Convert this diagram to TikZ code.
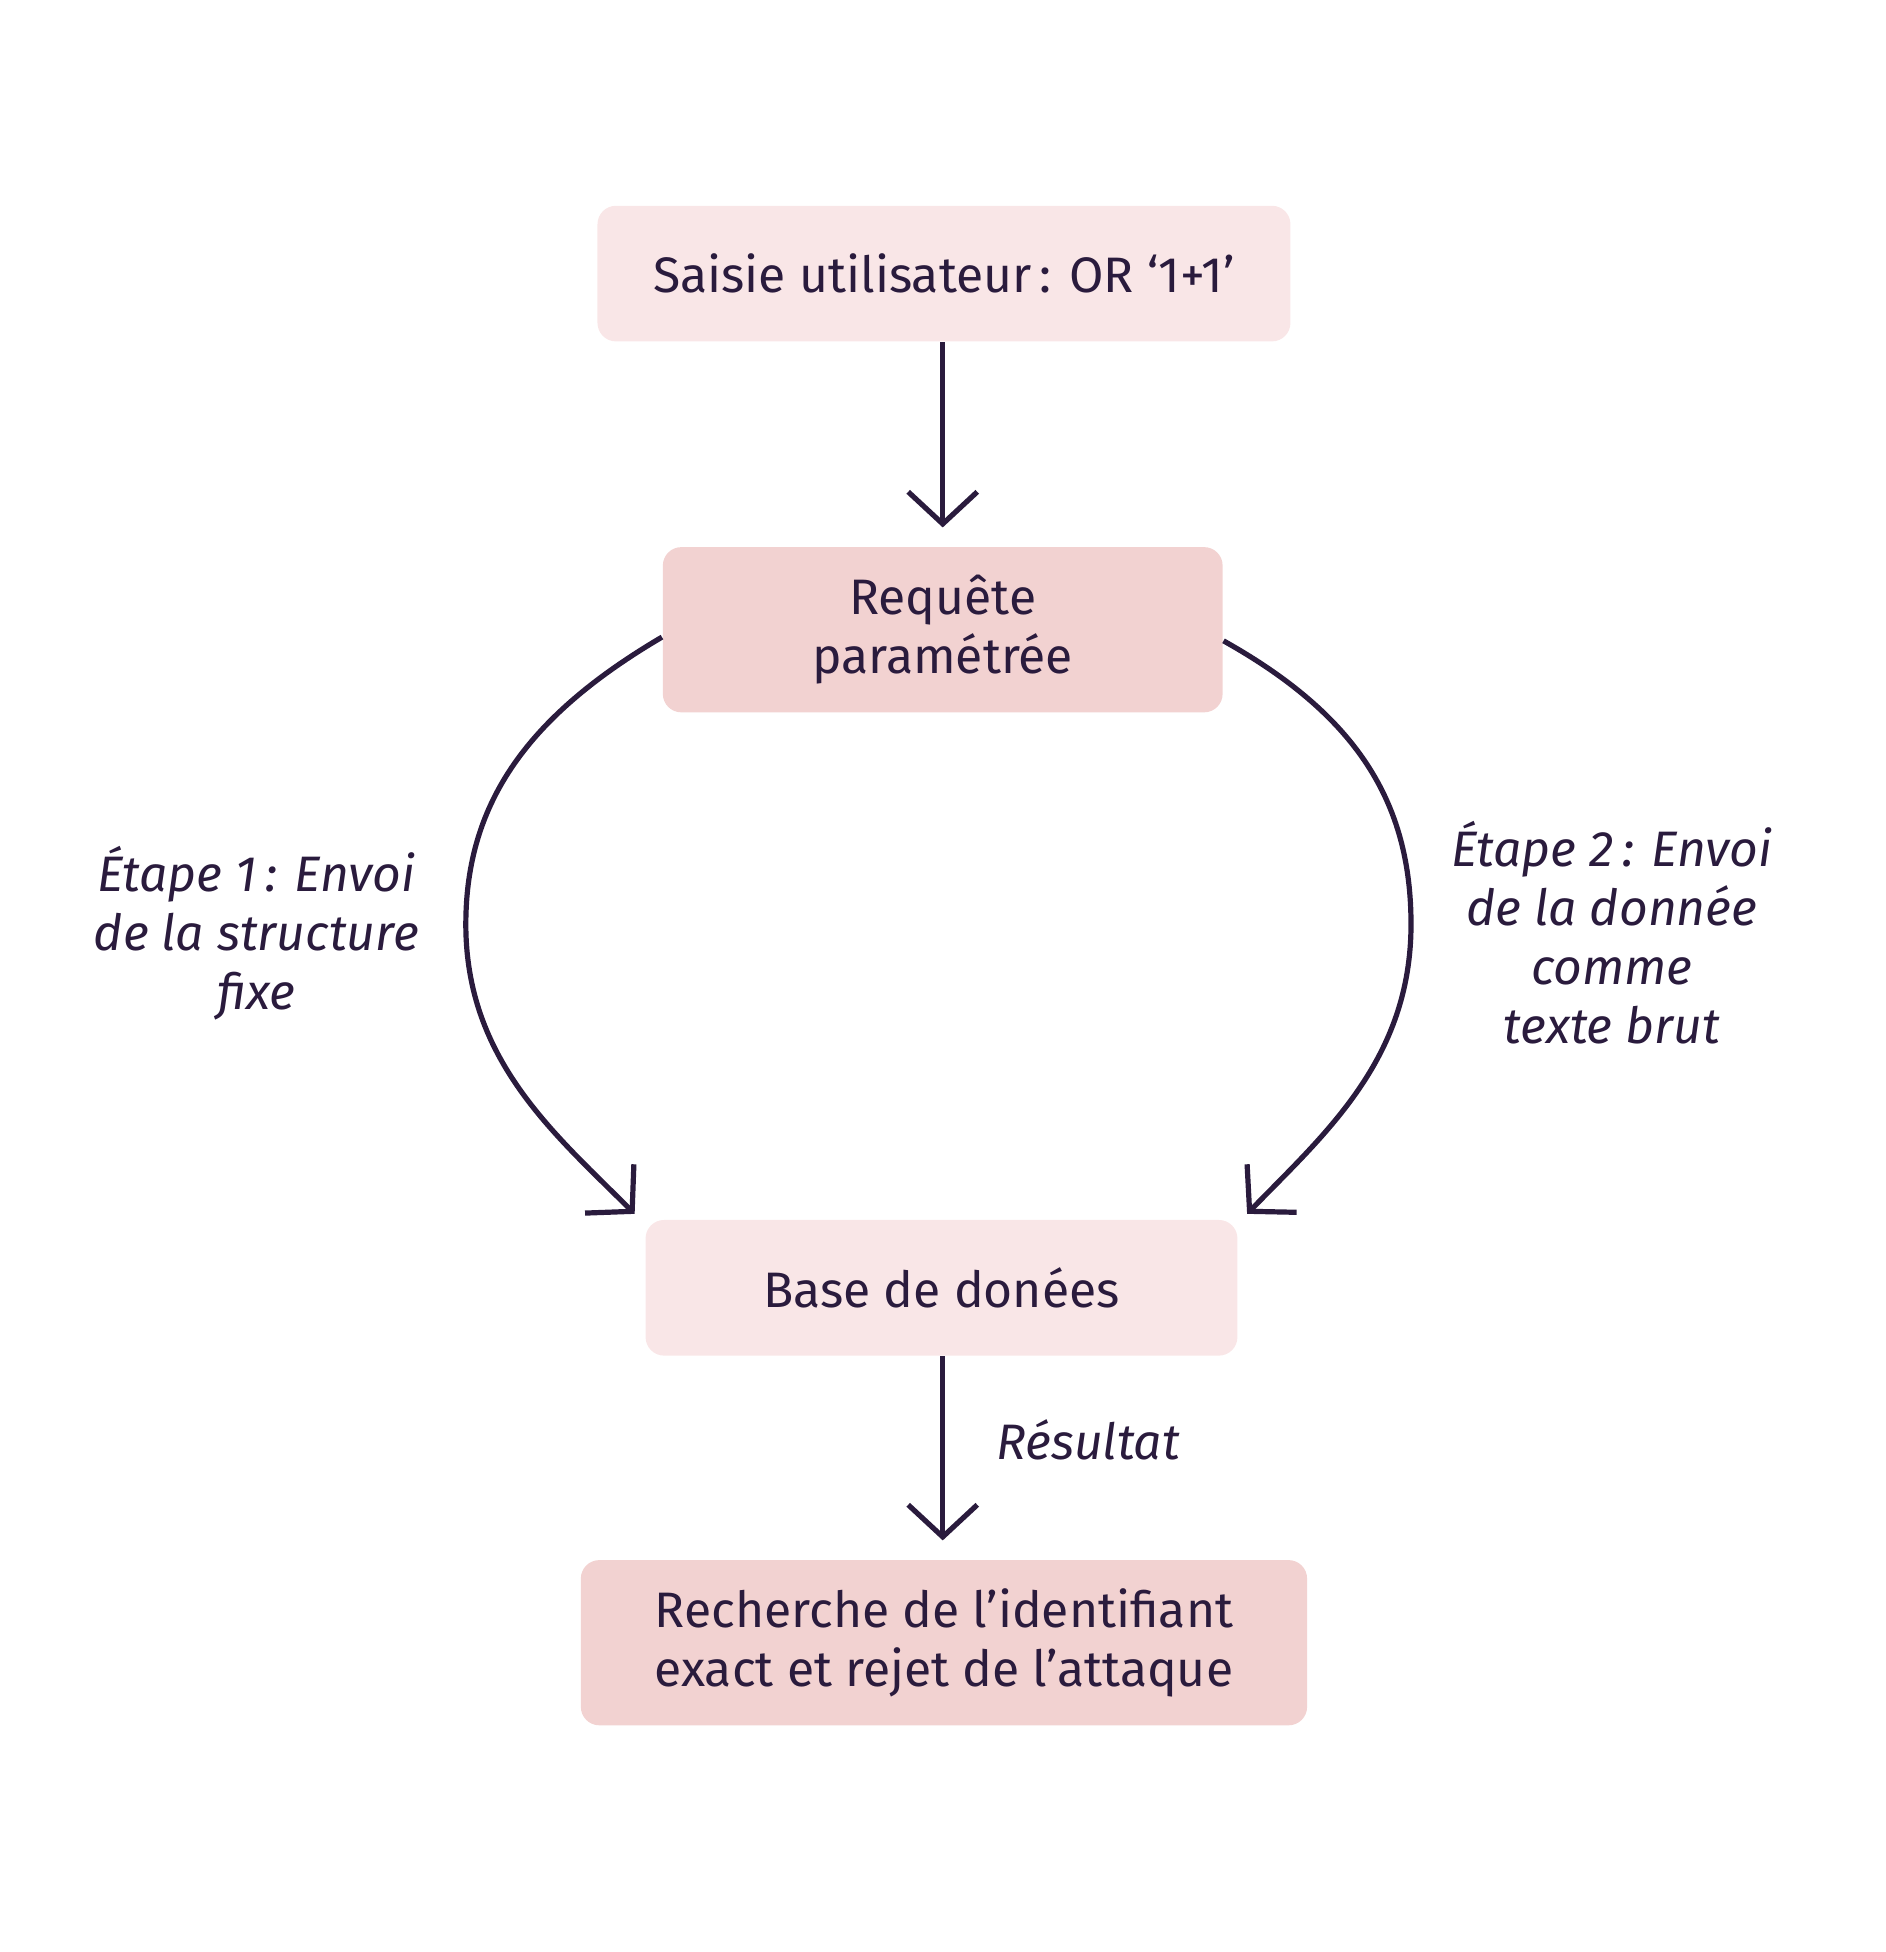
\documentclass[tikz,border=0pt]{standalone}
\usepackage{fontspec}
\setmainfont{Fira Sans}
\usetikzlibrary{arrows.meta}
\definecolor{inkpurple}{HTML}{2A1B3D}
\definecolor{pinklight}{HTML}{F9E6E7}
\definecolor{pinkdark}{HTML}{F2D2D1}
\tikzset{
  box/.style={rounded corners=0.15cm,inner sep=0pt,text=inkpurple,align=center,
    font=\fontsize{11.5}{13.6}\selectfont},
  flow/.style={line width=1.2pt,draw=inkpurple,-{Straight Barb[length=2.6mm,width=5.6mm,line width=1.2pt]}},
  lab/.style={text=inkpurple,align=center,font=\fontsize{11.5}{13.6}\selectfont\itshape}
}
\begin{document}
\begin{tikzpicture}[x=0.01cm,y=-0.01cm]
  \useasboundingbox (0,0) rectangle (1530,1584);
  % boxes
  \node[box,fill=pinklight,minimum width=5.62cm,minimum height=1.1cm] (input) at (766,222) {Saisie utilisateur\,: OR ‘1+1’};
  \node[box,fill=pinkdark,minimum width=4.54cm,minimum height=1.34cm] (query) at (765,511) {Requête\\paramétrée};
  \node[box,fill=pinklight,minimum width=4.8cm,minimum height=1.1cm] (db) at (764,1045) {Base de donées};
  \node[box,fill=pinkdark,minimum width=5.89cm,minimum height=1.34cm] (result) at (766,1333) {Recherche de l’identifiant\\exact et rejet de l’attaque};
  % arrows
  \coordinate (inputend) at (765,428);
  \coordinate (leftend) at (515,985);
  \coordinate (rightend) at (1012,985);
  \coordinate (resend) at (765,1250);
  \draw[flow] (input.south -| inputend) -- (inputend);
  \draw[flow] ([yshift=-0.06cm]query.west) .. controls (430,580) and (378,650) .. (378,750)
    .. controls (378,860) and (450,920) .. (leftend);
  \draw[flow] ([yshift=-0.09cm]query.east) .. controls (1100,580) and (1145,650) .. (1145,750)
    .. controls (1145,860) and (1075,920) .. (rightend);
  \draw[flow] (db.south -| resend) -- (resend);
  % labels
  \node[lab] (step1) at (208,757) {Étape 1\,: Envoi\\de la structure\\fixe};
  \node[lab] (step2) at (1308,757) {Étape 2\,: Envoi\\de la donnée\\comme\\texte brut};
  \node[lab] (res) at (883,1168) {Résultat};
\end{tikzpicture}
\end{document}
